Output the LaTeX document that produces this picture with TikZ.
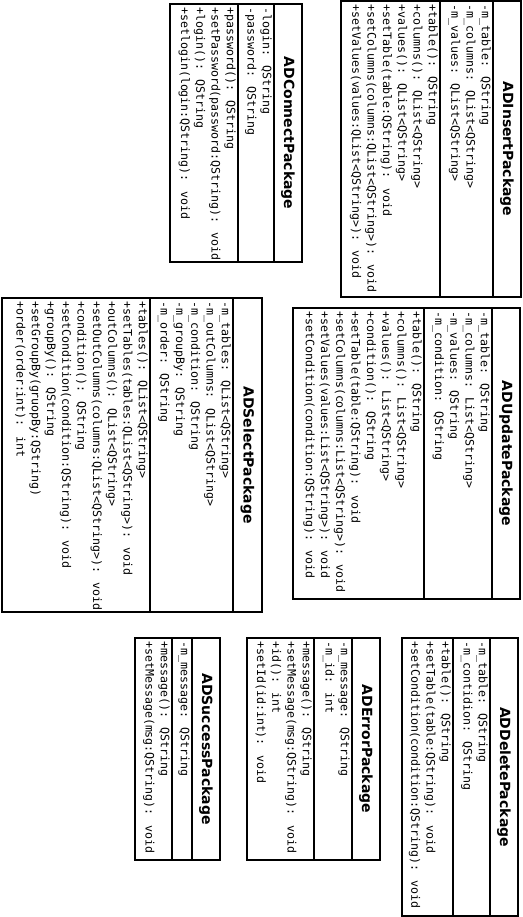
\documentclass[tikz,border=0pt]{standalone}
\usepackage{fontspec}
\newfontfamily\umlmono{DejaVu Sans Mono}
\newfontfamily\umlsans{DejaVu Sans}

\begin{document}
\begin{tikzpicture}[x=1pt, y=-1pt,
		classline/.style={line width=2pt},
		classname/.style={rotate=-90, inner sep=0pt, font=\umlsans\bfseries\fontsize{14}{16}\selectfont},
		members/.style={rotate=-90, anchor=north west, inner sep=0pt, align=left, font=\umlmono\fontsize{11.6}{15.3}\selectfont}]

	\useasboundingbox (0, 0) rectangle (522, 917);

	% ADInsertPackage
	\begin{scope}[shift={(341,1)}]
		\coordinate (A1) at (0, 0);
		\coordinate (A3) at (180, 296);
		\coordinate (T1) at (152, 0);
		\coordinate (T2) at (152, 296);
		\coordinate (M1) at (99, 0);
		\coordinate (M2) at (99, 296);

		\draw [classline] (A1) rectangle (A3);
		\draw [classline] (T1) -- (T2);
		\draw [classline] (M1) -- (M2);
		\node [classname] (insName) at (166, 148) {ADInsertPackage};
		\node [members] (insAttr) at (150, 3) {-m\_table: QString \\ -m\_columns: QList<QString> \\ -m\_values: QList<QString>};
		\node [members] (insOps) at (97, 3) {+table(): QString \\ +columns(): QList<QString> \\ +values(): QList<QString> \\ +setTable(table:QString): void \\ +setColumns(columns:QList<QString>): void \\ +setValues(values:QList<QString>): void};
	\end{scope}

	% ADConnectPackage
	\begin{scope}[shift={(170,4)}]
		\coordinate (A1) at (0, 0);
		\coordinate (A3) at (132, 258);
		\coordinate (T1) at (104, 0);
		\coordinate (T2) at (104, 258);
		\coordinate (M1) at (68, 0);
		\coordinate (M2) at (68, 258);

		\draw [classline] (A1) rectangle (A3);
		\draw [classline] (T1) -- (T2);
		\draw [classline] (M1) -- (M2);
		\node [classname] (conName) at (118, 129) {ADConnectPackage};
		\node [members] (conAttr) at (102, 3) {-login: QString \\ -password: QString};
		\node [members] (conOps) at (66, 3) {+password(): QString \\ +setPassword(password:QString): void \\ +login(): QString \\ +setlogin(login:QString): void};
	\end{scope}

	% ADUpdatePackage
	\begin{scope}[shift={(293,308)}]
		\coordinate (A1) at (0, 0);
		\coordinate (A3) at (227, 291);
		\coordinate (T1) at (199, 0);
		\coordinate (T2) at (199, 291);
		\coordinate (M1) at (131, 0);
		\coordinate (M2) at (131, 291);

		\draw [classline] (A1) rectangle (A3);
		\draw [classline] (T1) -- (T2);
		\draw [classline] (M1) -- (M2);
		\node [classname] (updName) at (213, 145.5) {ADUpdatePackage};
		\node [members] (updAttr) at (197, 3) {-m\_table: QString \\ -m\_columns: List<QString> \\ -m\_values: QString \\ -m\_condition: QString};
		\node [members] (updOps) at (129, 3) {+table(): QString \\ +columns(): List<QString> \\ +values(): List<QString> \\ +condition(): QString \\ +setTable(table:QString): void \\ +setColumns(columns:List<QString>): void \\ +setValues(values:List<QString>): void \\ +setCondition(condition:QString): void};
	\end{scope}

	% ADSelectPackage
	\begin{scope}[shift={(2,298)}]
		\coordinate (A1) at (0, 0);
		\coordinate (A3) at (260, 314);
		\coordinate (T1) at (231, 0);
		\coordinate (T2) at (231, 314);
		\coordinate (M1) at (148, 0);
		\coordinate (M2) at (148, 314);

		\draw [classline] (A1) rectangle (A3);
		\draw [classline] (T1) -- (T2);
		\draw [classline] (M1) -- (M2);
		\node [classname] (selName) at (245.5, 157) {ADSelectPackage};
		\node [members] (selAttr) at (229, 3) {-m\_tables: QList<QString> \\ -m\_outColumns: QList<QString> \\ -m\_condition: QString \\ -m\_groupBy: QString \\ -m\_order: QString};
		\node [members] (selOps) at (146, 3) {+tables(): QList<QString> \\ +setTables(tables:QList<QString>): void \\ +outColumns(): QList<QString> \\ +setOutColumns(columns:QList<QString>): void \\ +condition(): QString \\ +setCondition(condition:QString): void \\ +groupBy(): QString \\ +setGroupBy(gruopBy:QString) \\ +order(order:int): int};
	\end{scope}

	% ADDeletePackage
	\begin{scope}[shift={(402,638)}]
		\coordinate (A1) at (0, 0);
		\coordinate (A3) at (116, 278);
		\coordinate (T1) at (88, 0);
		\coordinate (T2) at (88, 278);
		\coordinate (M1) at (51, 0);
		\coordinate (M2) at (51, 278);

		\draw [classline] (A1) rectangle (A3);
		\draw [classline] (T1) -- (T2);
		\draw [classline] (M1) -- (M2);
		\node [classname] (delName) at (102, 139) {ADDeletePackage};
		\node [members] (delAttr) at (86, 3) {-m\_table: QString \\ -m\_contidion: QString};
		\node [members] (delOps) at (49, 3) {+table(): QString \\ +setTable(table:QString): void \\ +setCondition(condition:QString): void};
	\end{scope}

	% ADErrorPackage
	\begin{scope}[shift={(247,638)}]
		\coordinate (A1) at (0, 0);
		\coordinate (A3) at (133, 222);
		\coordinate (T1) at (105, 0);
		\coordinate (T2) at (105, 222);
		\coordinate (M1) at (67, 0);
		\coordinate (M2) at (67, 222);

		\draw [classline] (A1) rectangle (A3);
		\draw [classline] (T1) -- (T2);
		\draw [classline] (M1) -- (M2);
		\node [classname] (errName) at (119, 111) {ADErrorPackage};
		\node [members] (errAttr) at (103, 3) {-m\_message: QString \\ -m\_id: int};
		\node [members] (errOps) at (65, 3) {+message(): QString \\ +setMessage(msg:QString): void \\ +id(): int \\ +setId(id:int): void};
	\end{scope}

	% ADSuccessPackage
	\begin{scope}[shift={(135,638)}]
		\coordinate (A1) at (0, 0);
		\coordinate (A3) at (85, 222);
		\coordinate (T1) at (57, 0);
		\coordinate (T2) at (57, 222);
		\coordinate (M1) at (37, 0);
		\coordinate (M2) at (37, 222);

		\draw [classline] (A1) rectangle (A3);
		\draw [classline] (T1) -- (T2);
		\draw [classline] (M1) -- (M2);
		\node [classname] (sucName) at (71, 111) {ADSuccessPackage};
		\node [members] (sucAttr) at (55, 3) {-m\_message: QString};
		\node [members] (sucOps) at (35, 3) {+message(): QString \\ +setMessage(msg:QString): void};
	\end{scope}
\end{tikzpicture}
\end{document}
